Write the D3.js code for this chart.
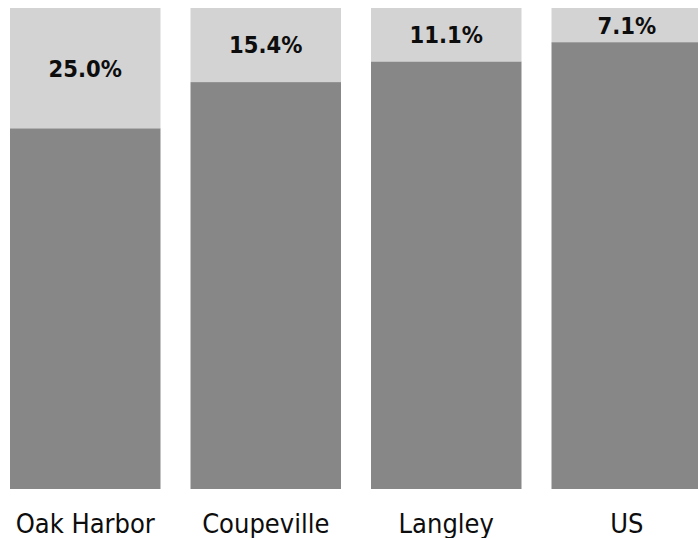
<!DOCTYPE html>
<html>
<head>
	<meta charset="utf-8" />
	<title>Share by place</title>
	<script src="https://d3js.org/d3.v7.min.js"></script>
	<style type="text/css">
		body { margin: 0; background: #fff; }
		text { font-family: "DejaVu Sans Condensed", "DejaVu Sans", sans-serif; font-stretch: condensed; }
	</style>
</head>
<body>
	<div id="chart"></div>
	<script>
		const places = ["Oak Harbor", "Coupeville", "Langley", "US"];
		const shares = [25.0, 15.4, 11.1, 7.1];

		const width = 698;
		const height = 538;

		const svg = d3.select("#chart")
			.append("svg")
			.attr("width", width)
			.attr("height", height);

		const x = d3.scaleBand()
			.domain(places)
			.range([10, 702])
			.paddingInner(30 / 180.5)
			.paddingOuter(0);

		const y = d3.scaleLinear()
			.domain([0, 100])
			.range([8, 489]);

		const data = places.map((p, i) => ({ place: p, share: shares[i] }));

		// rest of the bar (dark)
		svg.append("g")
			.selectAll("rect")
			.data(data)
			.enter()
			.append("rect")
			.attr("x", d => x(d.place))
			.attr("y", d => y(d.share))
			.attr("width", x.bandwidth())
			.attr("height", d => y(100) - y(d.share))
			.attr("fill", "#878787");

		// share on top (light)
		svg.append("g")
			.selectAll("rect")
			.data(data)
			.enter()
			.append("rect")
			.attr("x", d => x(d.place))
			.attr("y", y(0))
			.attr("width", x.bandwidth())
			.attr("height", d => y(d.share) - y(0))
			.attr("fill", "#d3d3d3");

		svg.append("g")
			.selectAll("text")
			.data(data)
			.enter()
			.append("text")
			.attr("x", d => x(d.place) + x.bandwidth() / 2)
			.attr("y", d => (y(0) + y(d.share)) / 2)
			.attr("dy", "0.36em")
			.attr("text-anchor", "middle")
			.style("font-size", "23.5px")
			.style("font-weight", "bold")
			.attr("fill", "#0d0d0d")
			.text(d => d.share.toFixed(1) + "%");

		svg.append("g")
			.selectAll("text")
			.data(data)
			.enter()
			.append("text")
			.attr("x", d => x(d.place) + x.bandwidth() / 2)
			.attr("y", 533)
			.attr("text-anchor", "middle")
			.style("font-size", "27px")
			.attr("fill", "#0d0d0d")
			.text(d => d.place);
	</script>
</body>
</html>
